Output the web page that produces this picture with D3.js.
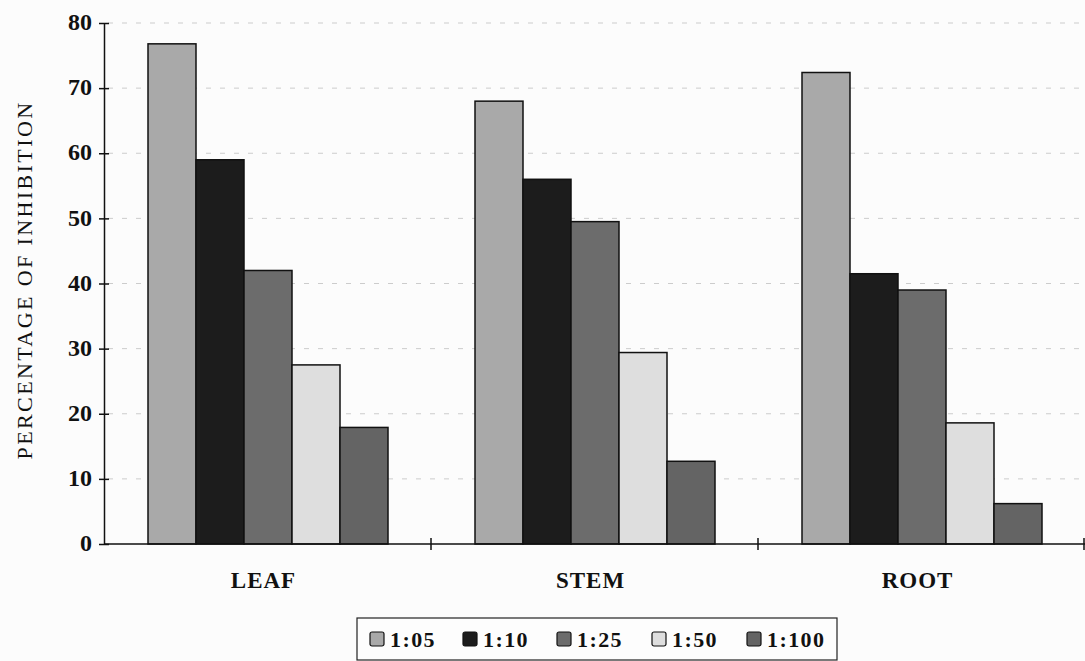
<!DOCTYPE html>
<html>
<head>
<meta charset="utf-8">
<script src="https://cdn.jsdelivr.net/npm/d3@7"></script>
<style>
  body { margin: 0; background: #fcfcfc; }
  svg text { font-family: "Liberation Serif", "Times New Roman", Times, "DejaVu Serif", serif !important; fill: #111; }
</style>
</head>
<body>
<script>
var categories = ['LEAF', 'STEM', 'ROOT'];
var series = ['1:05', '1:10', '1:25', '1:50', '1:100'];
// values per category, in series order
var leafValues = [76.8, 59, 42, 27.5, 17.9];
var stemValues = [68, 56, 49.5, 29.4, 12.7];
var rootValues = [72.4, 41.5, 39, 18.6, 6.2];
var yTicks = [0, 10, 20, 30, 40, 50, 60, 70, 80];

var colors = ['#a9a9a9', '#1c1c1c', '#6c6c6c', '#dedede', '#646464'];

var width = 1085, height = 661;
var margin = {left: 104, right: 0, top: 23, bottom: 117};

var rows = [leafValues, stemValues, rootValues];

var svg = d3.select('body').append('svg')
  .attr('width', width)
  .attr('height', height);

var y = d3.scaleLinear().domain([0, 80]).range([height - margin.bottom, margin.top]);
var x0 = d3.scaleBand().domain(categories).range([margin.left, width - margin.right]);
var x1 = d3.scaleBand().domain(series).range([44, x0.bandwidth() - 43]);

// dashed gridlines
svg.append('g').selectAll('line')
  .data(yTicks.filter(function(d) { return d > 0; }))
  .join('line')
  .attr('x1', margin.left + 4).attr('x2', width)
  .attr('y1', function(d) { return y(d); })
  .attr('y2', function(d) { return y(d); })
  .attr('stroke', '#cccccc')
  .attr('stroke-dasharray', '5,9');

// bars
var groups = svg.append('g').selectAll('g')
  .data(categories)
  .join('g')
  .attr('transform', function(d) { return 'translate(' + x0(d) + ',0)'; });

groups.selectAll('rect')
  .data(function(d, i) {
    return rows[i].map(function(v, j) { return {s: series[j], v: v, c: colors[j]}; });
  })
  .join('rect')
  .attr('x', function(d) { return x1(d.s); })
  .attr('width', x1.bandwidth())
  .attr('y', function(d) { return y(d.v); })
  .attr('height', function(d) { return y(0) - y(d.v); })
  .attr('fill', function(d) { return d.c; })
  .attr('stroke', '#111')
  .attr('stroke-width', 1.5);

// y axis
var yAxis = svg.append('g')
  .attr('transform', 'translate(' + margin.left + ',0)')
  .call(d3.axisLeft(y).tickValues(yTicks).tickSize(5).tickSizeOuter(0));
yAxis.attr('font-family', null);
yAxis.select('.domain').attr('stroke', '#111').attr('stroke-width', 1.5);
yAxis.selectAll('.tick line').attr('x2', 5).attr('x1', -5).attr('stroke', '#111').attr('stroke-width', 1.5);
yAxis.selectAll('.tick text')
  .attr('x', -12)
  .attr('dy', '0.28em')
  .style('font-size', '24px')
  .style('font-weight', 'bold')
  .attr('fill', '#111');

// x axis line with band boundary ticks
var xAxisG = svg.append('g');
xAxisG.append('line')
  .attr('x1', margin.left).attr('x2', width)
  .attr('y1', y(0)).attr('y2', y(0))
  .attr('stroke', '#111').attr('stroke-width', 1.5);
var bounds = categories.map(function(c) { return x0(c) + x0.bandwidth(); });
xAxisG.selectAll('line.bt')
  .data(bounds)
  .join('line')
  .attr('class', 'bt')
  .attr('x1', function(d) { return Math.min(d, width - 1); })
  .attr('x2', function(d) { return Math.min(d, width - 1); })
  .attr('y1', y(0) - 6).attr('y2', y(0) + 6)
  .attr('stroke', '#111').attr('stroke-width', 1.5);

xAxisG.selectAll('text')
  .data(categories)
  .join('text')
  .attr('x', function(d) { return x0(d) + x0.bandwidth() / 2 - 4; })
  .attr('y', 588)
  .attr('text-anchor', 'middle')
  .style('font-size', '23px')
  .style('font-weight', 'bold')
  .style('letter-spacing', '1px')
  .text(function(d) { return d; });

// y title
svg.append('text')
  .attr('transform', 'translate(32,280) rotate(-90)')
  .attr('text-anchor', 'middle')
  .style('font-size', '22px')
  .style('letter-spacing', '2.4px')
  .text('PERCENTAGE OF INHIBITION');

// legend
var legend = svg.append('g');
legend.append('rect')
  .attr('x', 357).attr('y', 618)
  .attr('width', 480).attr('height', 42)
  .attr('fill', '#fdfdfd')
  .attr('stroke', '#222').attr('stroke-width', 1.2);

var legendX = [370, 463, 557, 652, 747];
var items = legend.selectAll('g.item')
  .data(series)
  .join('g')
  .attr('class', 'item')
  .attr('transform', function(d, i) { return 'translate(' + legendX[i] + ',639)'; });
items.append('rect')
  .attr('x', 0).attr('y', -7)
  .attr('width', 14).attr('height', 14)
  .attr('rx', 2)
  .attr('fill', function(d, i) { return colors[i]; })
  .attr('stroke', '#111').attr('stroke-width', 1.2);
items.append('text')
  .attr('x', 20).attr('y', 8)
  .style('font-size', '22px')
  .style('font-weight', 'bold')
  .style('letter-spacing', '1.4px')
  .text(function(d) { return d; });
</script>
</body>
</html>
